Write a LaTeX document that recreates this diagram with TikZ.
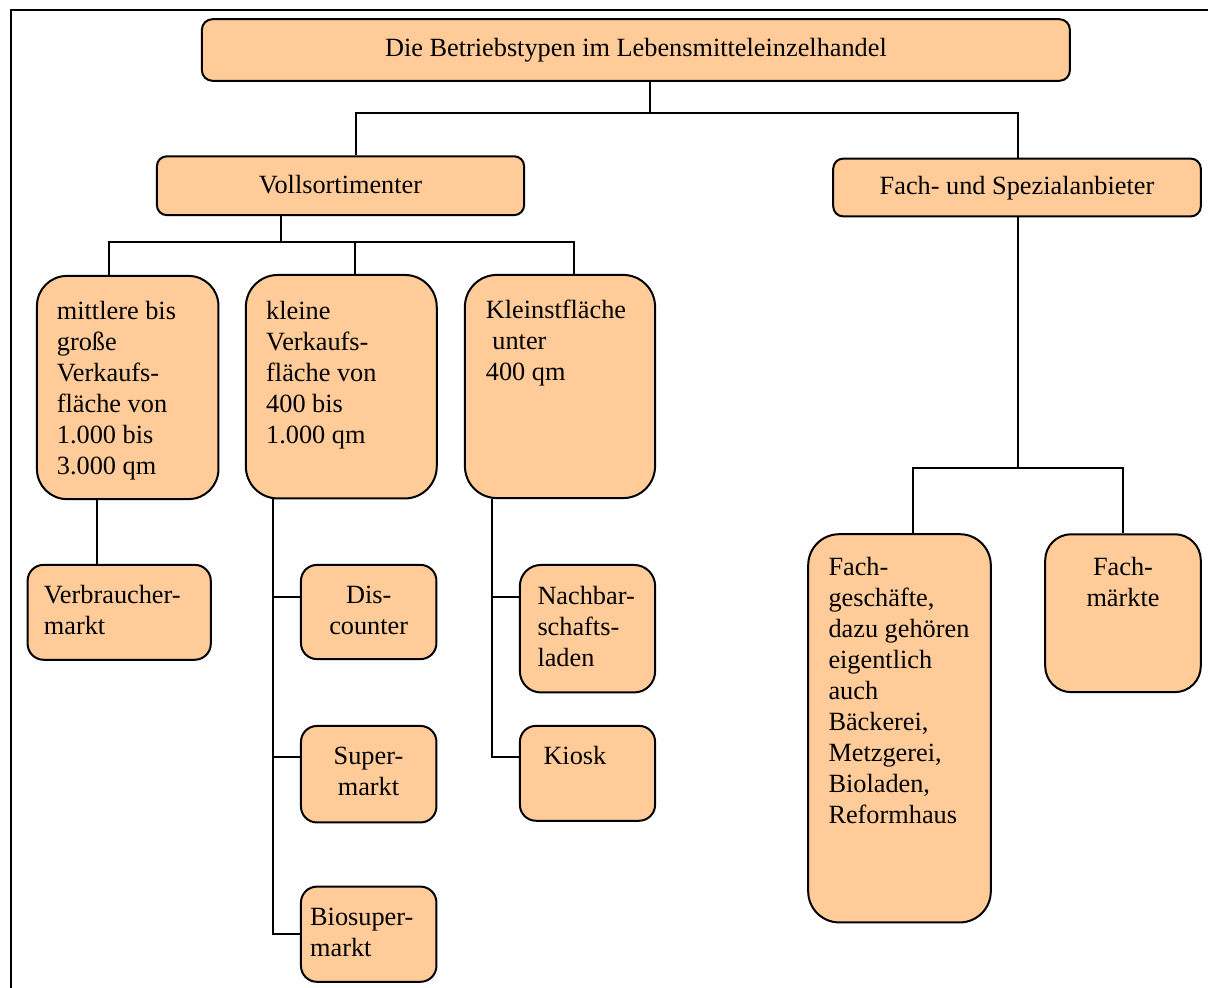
\documentclass[tikz,border=0pt]{standalone}
\usepackage{fontspec}
\setmainfont{Liberation Serif}
\definecolor{boxfill}{HTML}{FFCC99}
\begin{document}
\begin{tikzpicture}[x=1pt,y=-1pt,
  box/.style={draw=black, line width=2pt, fill=boxfill, rounded corners=#1, inner sep=0pt},
  box/.default=12,
  txt/.style={inner sep=0pt, font=\fontsize{26.3}{31}\selectfont},
  conn/.style={draw=black, line width=2pt}]
\useasboundingbox (0,0) rectangle (1208,988);
% frame (left and top edges)
\draw[line width=2pt] (11,988) -- (11,10) -- (1208,10);

% boxes
\node[box=10.5, minimum width=868, minimum height=61.6] (title) at (635.9,50) {};
\node[box=10, minimum width=367.2, minimum height=58.9] (voll) at (340.5,185.7) {};
\node[box=10, minimum width=367.6, minimum height=57.8] (fach) at (1017,187.5) {};
\node[box=30, minimum width=181.5, minimum height=223.2] (b1) at (127.7,387.5) {};
\node[box=32, minimum width=190.9, minimum height=223.5] (b2) at (341.3,386.7) {};
\node[box=32, minimum width=190.2, minimum height=223.2] (b3) at (560,386.5) {};
\node[box=16, minimum width=183.2, minimum height=94.9] (vm) at (119.2,612.3) {};
\node[box=16, minimum width=135.5, minimum height=94.2] (disc) at (368.7,612) {};
\node[box=16, minimum width=135.5, minimum height=96.5] (sup) at (368.7,774.2) {};
\node[box=16, minimum width=135.5, minimum height=95.2] (bio) at (368.7,934.2) {};
\node[box=21, minimum width=135.2, minimum height=127.5] (nb) at (587.5,628.7) {};
\node[box=16, minimum width=135.2, minimum height=94.9] (ki) at (587.5,773.3) {};
\node[box=31, minimum width=182.6, minimum height=388.2] (fg) at (899.5,728.3) {};
\node[box=26, minimum width=155.6, minimum height=157.9] (fm) at (1123,613.2) {};

% texts (multi-line nodes are placed by the baseline of their last line)
\node[txt, anchor=base] (titlet) at (635.9,56.7) {Die Betriebstypen im Lebensmitteleinzelhandel};
\node[txt, anchor=base] (vollt) at (340.5,193.3) {Vollsortimenter};
\node[txt, anchor=base] (facht) at (1017,194.3) {Fach- und Spezialanbieter};
\node[txt, anchor=base west, align=left] (b1t) at (56.7,474.3) {mittlere bis\\große\\Verkaufs-\\fläche von\\1.000 bis\\3.000 qm};
\node[txt, anchor=base west, align=left] (b2t) at (266,443) {kleine\\Verkaufs-\\fläche von\\400 bis\\1.000 qm};
\node[txt, anchor=base west, align=left] (b3t) at (485.7,380.5) {Kleinstfläche\\\hspace*{6.5pt}unter\\400 qm};
\node[txt, anchor=base west, align=left] (vmt) at (43.7,634.3) {Verbraucher-\\markt};
\node[txt, anchor=base, align=center] (disct) at (368.7,634.3) {Dis-\\counter};
\node[txt, anchor=base, align=center] (supt) at (368.5,795) {Super-\\markt};
\node[txt, anchor=base west, align=left] (biot) at (310,956) {Biosuper-\\markt};
\node[txt, anchor=base west, align=left] (nbt) at (537.3,666) {Nachbar-\\schafts-\\laden};
\node[txt, anchor=base west] (kit) at (543.3,764) {Kiosk};
\node[txt, anchor=base west, align=left] (fgt) at (828.3,823.5) {Fach-\\geschäfte,\\dazu gehören\\eigentlich\\auch\\Bäckerei,\\Metzgerei,\\Bioladen,\\Reformhaus};
\node[txt, anchor=base, align=center] (fmt) at (1123,606) {Fach-\\märkte};

% junction coordinates
\coordinate (j1) at (650,113.3);
\coordinate (j1l) at (355.5,113.3);
\coordinate (j1r) at (1018.3,113.3);
\coordinate (j2) at (280.7,242.3);
\coordinate (j2l) at (109,242.3);
\coordinate (j2m) at (355,242.3);
\coordinate (j2r) at (574.3,242.3);
\coordinate (c1) at (96.7,530);
\coordinate (k2a) at (273.3,597);
\coordinate (k2b) at (273.3,757.3);
\coordinate (k2c) at (273.3,934.2);
\coordinate (k3a) at (492.3,597);
\coordinate (k3b) at (492.3,757.3);
\coordinate (jf) at (1018.3,468.3);
\coordinate (jfl) at (912.7,468.3);
\coordinate (jfr) at (1123.3,468.3);

% connectors
\draw[conn] (title.south -| j1) -- (j1);
\draw[conn] (voll.north -| j1l) -- (j1l) -- (j1r) -- (fach.north -| j1r);
\draw[conn] (voll.south -| j2) -- (j2);
\draw[conn] (b1.north -| j2l) -- (j2l) -- (j2r) -- (b3.north -| j2r);
\draw[conn] (j2m) -- (b2.north -| j2m);
\draw[conn] (b1.south -| c1) -- (vm.north -| c1);
\draw[conn] (b2.south -| k2a) -- (k2c) -- (bio.west |- k2c);
\draw[conn] (k2a) -- (disc.west |- k2a);
\draw[conn] (k2b) -- (sup.west |- k2b);
\draw[conn] (b3.south -| k3a) -- (k3b) -- (ki.west |- k3b);
\draw[conn] (k3a) -- (nb.west |- k3a);
\draw[conn] (fach.south -| jf) -- (jf);
\draw[conn] (fg.north -| jfl) -- (jfl) -- (jfr) -- (fm.north -| jfr);
\end{tikzpicture}
\end{document}
